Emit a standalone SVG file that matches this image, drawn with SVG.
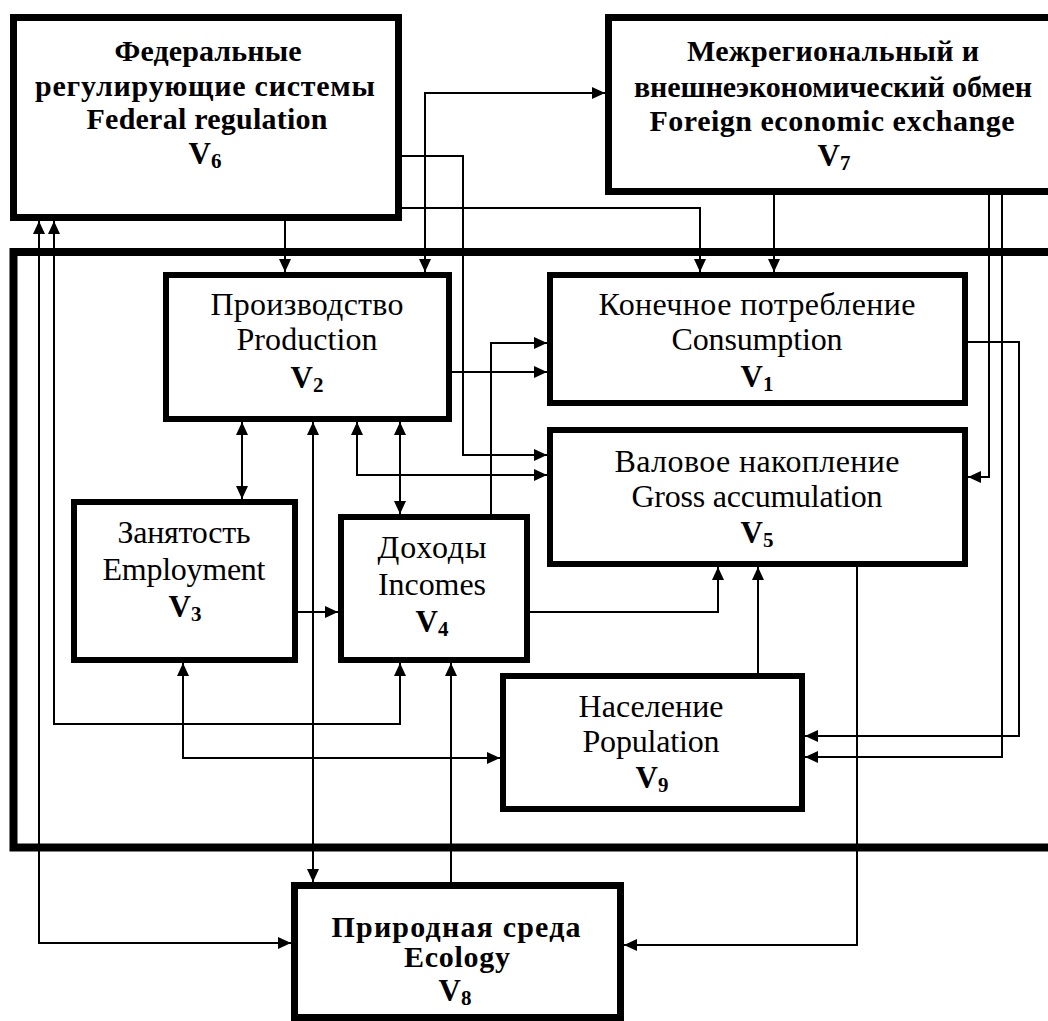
<svg xmlns="http://www.w3.org/2000/svg" width="1048" height="1021" viewBox="0 0 1048 1021">
<style>
.box{fill:#fff;stroke:#000;stroke-width:6}
.thick{stroke-width:7}
.frame{fill:none;stroke:#000;stroke-width:8}
.c{fill:none;stroke:#000;stroke-width:2}
text{font-family:'Liberation Serif','Times New Roman','DejaVu Serif',serif;fill:#000;text-anchor:middle}
.t{font-size:32px}
.b{font-weight:bold;font-size:30px}
.v{font-size:31px;font-weight:bold}
.s{font-size:21px}
</style>
<defs>
<marker id="a" markerUnits="userSpaceOnUse" markerWidth="13" markerHeight="12" refX="13" refY="6" orient="auto-start-reverse">
<path d="M0,0 L13,6 L0,12 Z" fill="#000"/>
</marker>
</defs>
<rect width="1048" height="1021" fill="#fff"/>
<rect id="container" class="frame" x="13.5" y="252" width="1060" height="595.5"/>

<g id="connectors">
<path class="c" d="M285,221 V272" marker-end="url(#a)"/>
<path class="c" d="M402,156 H463 V455 H547" marker-end="url(#a)"/>
<path class="c" d="M402,208 H700 V272" marker-end="url(#a)"/>
<path class="c" d="M425,272 V93 H605" marker-start="url(#a)" marker-end="url(#a)"/>
<path class="c" d="M774,195 V272" marker-end="url(#a)"/>
<path class="c" d="M989,195 V477 H968" marker-end="url(#a)"/>
<path class="c" d="M1002,195 V757 H805" marker-end="url(#a)"/>
<path class="c" d="M968,342 H1019 V736 H805" marker-end="url(#a)"/>
<path class="c" d="M857,567 V945 H624" marker-end="url(#a)"/>
<path class="c" d="M452,372 H547" marker-end="url(#a)"/>
<path class="c" d="M491,514 V343 H547" marker-end="url(#a)"/>
<path class="c" d="M357,422 V475 H547" marker-start="url(#a)" marker-end="url(#a)"/>
<path class="c" d="M242,422 V499" marker-start="url(#a)" marker-end="url(#a)"/>
<path class="c" d="M400,422 V514" marker-start="url(#a)" marker-end="url(#a)"/>
<path class="c" d="M313,422 V882" marker-start="url(#a)" marker-end="url(#a)"/>
<path class="c" d="M451,882 V663" marker-end="url(#a)"/>
<path class="c" d="M298,612 H338" marker-end="url(#a)"/>
<path class="c" d="M530,612 H718 V567" marker-end="url(#a)"/>
<path class="c" d="M758,673 V567" marker-end="url(#a)"/>
<path class="c" d="M183,663 V758 H500" marker-start="url(#a)" marker-end="url(#a)"/>
<path class="c" d="M54,221 V724 H400 V663" marker-start="url(#a)" marker-end="url(#a)"/>
<path class="c" d="M39,221 V943 H291" marker-start="url(#a)" marker-end="url(#a)"/>
</g>

<g id="V6">
<rect class="box thick" x="13.5" y="17.5" width="385" height="200"/>
<text class="b" x="208" y="61" textLength="187">Федеральные</text>
<text class="b" x="205" y="96" textLength="340">регулирующие системы</text>
<text class="b" x="207" y="129" textLength="241">Federal regulation</text>
<text class="v" x="205" y="164">V<tspan class="s" dy="4">6</tspan></text>
</g>

<g id="V7">
<rect class="box thick" x="608.5" y="17.5" width="470" height="174"/>
<text class="b" x="833" y="61" textLength="292">Межрегиональный и</text>
<text class="b" x="833" y="97" textLength="398">внешнеэкономический обмен</text>
<text class="b" x="832" y="131" textLength="365">Foreign economic exchange</text>
<text class="v" x="834" y="166">V<tspan class="s" dy="4">7</tspan></text>
</g>

<g id="V2">
<rect class="box" x="166" y="275" width="283" height="144"/>
<text class="t" x="307" y="315" textLength="193">Производство</text>
<text class="t" x="307" y="350" textLength="141">Production</text>
<text class="v" x="307" y="388">V<tspan class="s" dy="4">2</tspan></text>
</g>

<g id="V1">
<rect class="box" x="550" y="275" width="415" height="128"/>
<text class="t" x="757" y="315" textLength="317">Конечное потребление</text>
<text class="t" x="757" y="350" textLength="171">Consumption</text>
<text class="v" x="757" y="387">V<tspan class="s" dy="4">1</tspan></text>
</g>

<g id="V5">
<rect class="box" x="550" y="430" width="415" height="134"/>
<text class="t" x="757" y="472" textLength="285">Валовое накопление</text>
<text class="t" x="757" y="507" textLength="251">Gross accumulation</text>
<text class="v" x="757" y="543">V<tspan class="s" dy="4">5</tspan></text>
</g>

<g id="V3">
<rect class="box" x="74" y="502" width="221" height="158"/>
<text class="t" x="184" y="543" textLength="133">Занятость</text>
<text class="t" x="184" y="580" textLength="163">Employment</text>
<text class="v" x="185" y="617">V<tspan class="s" dy="4">3</tspan></text>
</g>

<g id="V4">
<rect class="box" x="341" y="517" width="186" height="143"/>
<text class="t" x="432" y="558" textLength="109">Доходы</text>
<text class="t" x="432" y="595" textLength="108">Incomes</text>
<text class="v" x="432" y="632">V<tspan class="s" dy="4">4</tspan></text>
</g>

<g id="V9">
<rect class="box" x="503" y="676" width="299" height="133"/>
<text class="t" x="651" y="717" textLength="145">Население</text>
<text class="t" x="651" y="752" textLength="137">Population</text>
<text class="v" x="652" y="788">V<tspan class="s" dy="4">9</tspan></text>
</g>

<g id="V8">
<rect class="box thick" x="294.5" y="885.5" width="326" height="132"/>
<text class="b" x="456" y="937" textLength="249">Природная среда</text>
<text class="b" x="457" y="967" textLength="106">Ecology</text>
<text class="v" x="455" y="1001">V<tspan class="s" dy="4">8</tspan></text>
</g>
</svg>
